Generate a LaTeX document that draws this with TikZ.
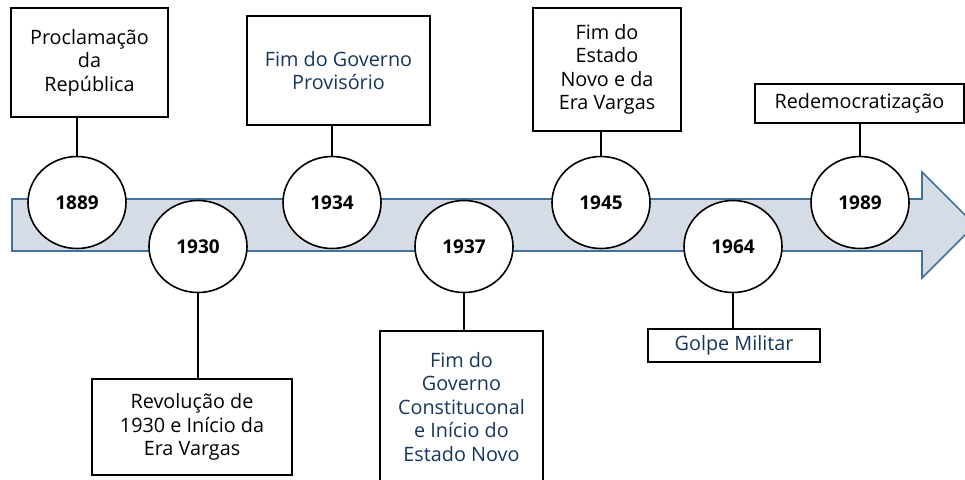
\documentclass[tikz,border=0pt]{standalone}
\usepackage{fontspec}
\setmainfont{Open Sans}
\usetikzlibrary{shapes.geometric}
\definecolor{navy}{RGB}{23,54,93}
\definecolor{arrowfill}{RGB}{214,220,229}
\definecolor{arrowline}{RGB}{65,113,156}
\tikzset{
  box/.style={draw=black, line width=1.6pt, fill=white, align=center, inner sep=2pt,
              font=\fontsize{19.8}{23.5}\selectfont},
  yearnode/.style={draw=black, line width=1.6pt, fill=white, ellipse, inner sep=0pt,
              minimum width=98pt, minimum height=92pt, font=\fontsize{19}{22}\selectfont\bfseries},
  link/.style={draw=black, line width=1.6pt},
  timeline/.style={fill=arrowfill, draw=arrowline, line width=1.6pt, line join=miter}
}
\begin{document}
\begin{tikzpicture}[x=1pt, y=-1pt]
\useasboundingbox (0,0) rectangle (965,479);
% timeline arrow
\draw[timeline] (12,199) -- (922,199) -- (922,172) -- (975,225) -- (922,278) -- (922,251) -- (12,251) -- cycle;
% year circles
\node[yearnode] (c1889) at (77,202.5) {1889};
\node[yearnode] (c1930) at (198,246.5) {1930};
\node[yearnode] (c1934) at (332,202.5) {1934};
\node[yearnode] (c1937) at (464,246.5) {1937};
\node[yearnode] (c1945) at (601,202.5) {1945};
\node[yearnode] (c1964) at (733,246.5) {1964};
\node[yearnode] (c1989) at (860,202.5) {1989};
% event boxes
\node[box, minimum width=157pt, minimum height=109pt] (b1889) at (89.5,62.5) {Proclamação\\da\\República};
\node[box, minimum width=200pt, minimum height=96pt] (b1930) at (192,427) {Revolução de\\1930 e Início da\\Era Vargas};
\node[box, text=navy, minimum width=183pt, minimum height=109pt] (b1934) at (338.5,70.5) {Fim do Governo\\Provisório};
\node[box, text=navy, minimum width=163pt, minimum height=152pt] (b1937) at (461.5,407) {Fim do\\Governo\\Constituconal\\e Início do\\Estado Novo};
\node[box, minimum width=148pt, minimum height=123pt] (b1945) at (607,69.5) {Fim do\\Estado\\Novo e da\\Era Vargas};
\node[box, text=navy, minimum width=172pt, minimum height=33pt] (b1964) at (734,345.5) {Golpe Militar};
\node[box, minimum width=209pt, minimum height=39pt] (b1989) at (859.5,103.5) {Redemocratização};
% connectors
\draw[link] (c1889.north) -- (c1889.north |- b1889.south);
\draw[link] (c1930.south) -- (c1930.south |- b1930.north);
\draw[link] (c1934.north) -- (c1934.north |- b1934.south);
\draw[link] (c1937.south) -- (c1937.south |- b1937.north);
\draw[link] (c1945.north) -- (c1945.north |- b1945.south);
\draw[link] (c1964.south) -- (c1964.south |- b1964.north);
\draw[link] (c1989.north) -- (c1989.north |- b1989.south);
\end{tikzpicture}
\end{document}
